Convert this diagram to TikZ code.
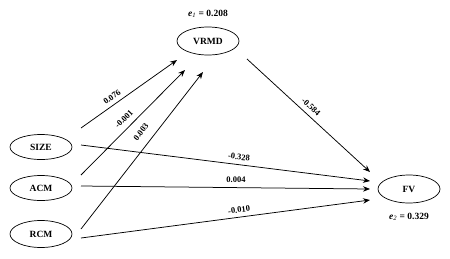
\documentclass[tikz,border=0pt]{standalone}
\usepackage{fontspec}
\setmainfont{Liberation Serif}
\usetikzlibrary{arrows.meta,shapes.geometric}
\begin{document}
\begin{tikzpicture}[x=1pt,y=-1pt,
  var/.style={draw,ellipse,line width=0.7pt,minimum width=62pt,minimum height=26pt,inner sep=0pt,font=\fontsize{9.5}{11}\selectfont\bfseries},
  arr/.style={line width=0.75pt,-{Stealth[length=7pt,width=5.5pt]}},
  lab/.style={font=\fontsize{8.5}{10}\selectfont\bfseries,inner sep=0pt},
  elab/.style={font=\fontsize{9.5}{11}\selectfont\bfseries,inner sep=0pt}]
\useasboundingbox (0,0) rectangle (450,258);
\node[var,minimum height=28pt] (vrmd) at (208,41) {VRMD};
\node[var,minimum height=25pt] (size) at (41,147) {SIZE};
\node[var,minimum height=25pt] (acm) at (41,188) {ACM};
\node[var,minimum height=27pt] (rcm) at (41,234) {RCM};
\node[var,minimum height=28pt] (fv) at (409,189) {FV};
\node[elab] (e1) at (208,14) {\textit{e}$_{\mathit{1}}$ = 0.208};
\node[elab] (e2) at (409,217) {\textit{e}$_{\mathit{2}}$ = 0.329};
% connector ends
\coordinate (s1) at (81,128); \coordinate (v1) at (177,60);
\coordinate (a1) at (81,175); \coordinate (v2) at (185,70);
\coordinate (r1) at (81,229); \coordinate (v3) at (203,72);
\coordinate (v4) at (247,59); \coordinate (f1) at (370,172);
\coordinate (s2) at (81,145); \coordinate (f2) at (370,181);
\coordinate (a2) at (81,186); \coordinate (f3) at (370,189);
\coordinate (r2) at (81,238); \coordinate (f4) at (370,200);
\draw[arr] (s1) -- (v1);
\draw[arr] (a1) -- (v2);
\draw[arr] (r1) -- (v3);
\draw[arr] (v4) -- (f1);
\draw[arr] (s2) -- (f2);
\draw[arr] (a2) -- (f3);
\draw[arr] (r2) -- (f4);
\node[lab,rotate=35] (l1) at (112,97) {0.076};
\node[lab,rotate=45] (l2) at (124,119) {-0.001};
\node[lab,rotate=52] (l3) at (141,132) {0.003};
\node[lab,rotate=-43] (l4) at (311,107) {-0.584};
\node[lab,rotate=-6] (l5) at (239,157) {-0.328};
\node[lab] (l6) at (236,180) {0.004};
\node[lab,rotate=7] (l7) at (239,210) {-0.010};
\end{tikzpicture}
\end{document}
